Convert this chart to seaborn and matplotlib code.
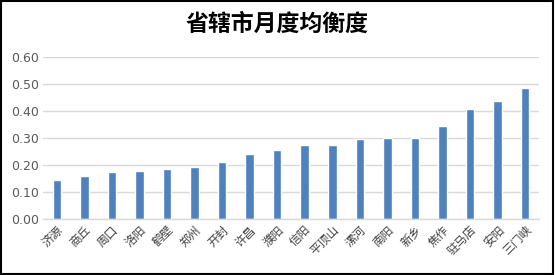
import matplotlib
matplotlib.use("Agg")
import matplotlib.pyplot as plt
import seaborn as sns
import pandas as pd
from matplotlib.patches import Rectangle

cities = ["济源", "商丘", "周口", "洛阳", "鹤壁", "郑州", "开封", "许昌", "濮阳",
          "信阳", "平顶山", "漯河", "南阳", "新乡", "焦作", "驻马店", "安阳", "三门峡"]
values = [0.145, 0.160, 0.174, 0.178, 0.186, 0.193, 0.211, 0.241, 0.256,
          0.275, 0.275, 0.297, 0.300, 0.300, 0.345, 0.408, 0.438, 0.486]
yticks = [0.0, 0.1, 0.2, 0.3, 0.4, 0.5, 0.6]
title = "省辖市月度均衡度"

sns.set_theme(style="white")
plt.rcParams['font.family'] = ['Noto Sans CJK SC', 'DejaVu Sans']

df = pd.DataFrame({"city": cities, "value": values})

fig = plt.figure(figsize=(5.55, 2.75), dpi=100)
ax = fig.add_axes([0.0775, 0.2036, 0.8935, 0.588])
sns.barplot(data=df, x="city", y="value", color="#4f81bd", width=0.31,
            saturation=1, ax=ax)
ax.set_ylim(0, 0.6)
ax.set_xlim(-0.5, len(cities) - 0.5)
ax.set_yticks(yticks)
ax.set_yticklabels([f"{v:.2f}" for v in yticks], color="#595959", fontsize=9,
                   family=['DejaVu Sans'])
ax.set_xticks(range(len(cities)))
ax.set_xticklabels(cities, rotation=45, ha="right", rotation_mode="anchor",
                   fontsize=8.5, color="#404040")
ax.tick_params(axis="both", length=0, pad=3)
ax.set_xlabel("")
ax.set_ylabel("")
ax.yaxis.grid(True, color="#d9d9d9", linewidth=1)
ax.set_axisbelow(True)
for s in ["top", "right", "left"]:
    ax.spines[s].set_visible(False)
ax.spines["bottom"].set_color("#d9d9d9")
ax.spines["bottom"].set_linewidth(1)

fig.text(0.5, 0.912, title, ha="center", va="center", fontsize=16.5,
         fontweight="bold", color="black")

fig.patches.append(Rectangle((0.002, 0.004), 0.994, 0.992, transform=fig.transFigure,
                             fill=False, edgecolor="black", linewidth=1.5))

fig.savefig("out.png", dpi=100)
